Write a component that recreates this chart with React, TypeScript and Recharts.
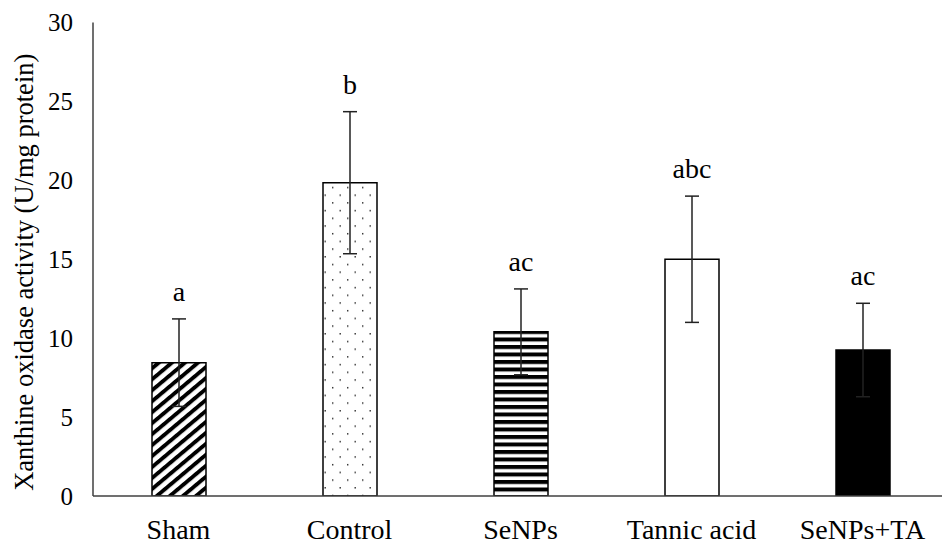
import React from 'react';
import { BarChart, Bar, XAxis, YAxis, ErrorBar, Cell, LabelList } from 'recharts';

const categories = ['Sham', 'Control', 'SeNPs', 'Tannic acid', 'SeNPs+TA'];
const means = [8.45, 19.85, 10.4, 15.0, 9.25];
const errors = [2.77, 4.5, 2.72, 4.0, 2.96];
const letters = ['a', 'b', 'ac', 'abc', 'ac'];
const yTicks = [0, 5, 10, 15, 20, 25, 30];
const yLabel = 'Xanthine oxidase activity (U/mg protein)';

const barFills = ['url(#diagStripe)', 'url(#dotFill)', 'url(#hStripe)', '#ffffff', '#000000'];

const data = categories.map((name, i) => ({ name, mean: means[i], err: errors[i], letter: letters[i] }));

const FONT = "'Liberation Serif', 'Times New Roman', 'DejaVu Serif', serif";
const textStyle = { fontFamily: FONT };

const YTick = (props: any) => {
  const { x, y, payload } = props;
  return (
    <text x={x - 20} y={y + 8.5} textAnchor="end" style={textStyle} fontSize={25} fill="#000">
      {payload.value}
    </text>
  );
};

const XTick = (props: any) => {
  const { x, y, payload } = props;
  return (
    <text x={x} y={y + 43} textAnchor="middle" style={textStyle} fontSize={28} fill="#000">
      {payload.value}
    </text>
  );
};

const YLabel = (props: any) => {
  const vb = props.viewBox || { x: 0, y: 22.5, width: 93, height: 473.5 };
  const cx = 33;
  const cy = vb.y + vb.height / 2 + 13;
  return (
    <text
      x={cx}
      y={cy}
      transform={`rotate(-90, ${cx}, ${cy})`}
      textAnchor="middle"
      style={textStyle}
      fontSize={26.5}
      fill="#000"
    >
      {yLabel}
    </text>
  );
};

const LetterLabel = (props: any) => {
  const vb = props.viewBox && props.viewBox.width !== undefined ? props.viewBox : props;
  const { x, y, width, height } = vb;
  let idx = props.index;
  if (idx === undefined || idx === null) {
    idx = props.payload ? categories.indexOf(props.payload.name) : 0;
  }
  const v = means[idx];
  const e = errors[idx];
  const errTop = y - e * (height / v);
  return (
    <text x={x + width / 2} y={errTop - 18} textAnchor="middle" style={textStyle} fontSize={28} fill="#000">
      {letters[idx]}
    </text>
  );
};

export default function App() {
  return (
    <div
      style={{
        position: 'absolute',
        left: 0,
        top: 0,
        width: 942,
        height: 545,
        overflow: 'hidden',
        background: '#fff',
      }}
    >
      <svg width={0} height={0} style={{ position: 'absolute' }}>
        <defs>
          <pattern id="diagStripe" patternUnits="userSpaceOnUse" width={8.4} height={8.4} patternTransform="rotate(50)">
            <rect x={0} y={0} width={8.4} height={8.4} fill="#fff" />
            <rect x={0} y={0} width={3.9} height={8.4} fill="#000" />
          </pattern>
          <pattern id="dotFill" patternUnits="userSpaceOnUse" width={15} height={15.4}>
            <rect x={0} y={0} width={15} height={15.4} fill="#fff" />
            <rect x={2} y={2} width={1.4} height={1.4} fill="#222" />
            <rect x={9.5} y={9.7} width={1.4} height={1.4} fill="#222" />
          </pattern>
          <pattern id="hStripe" patternUnits="userSpaceOnUse" width={7.5} height={7.5}>
            <rect x={0} y={0} width={7.5} height={7.5} fill="#fff" />
            <rect x={0} y={0} width={7.5} height={4} fill="#000" />
          </pattern>
        </defs>
      </svg>
      <BarChart
        width={948}
        height={545}
        data={data}
        margin={{ top: 22.5, right: 0, bottom: 0, left: 0 }}
        barSize={54}
      >
        <XAxis
          dataKey="name"
          height={49}
          tickLine={false}
          tickSize={0}
          tickMargin={0}
          axisLine={{ stroke: '#404040', strokeWidth: 1.5 }}
          tick={<XTick />}
          interval={0}
        />
        <YAxis
          width={93}
          domain={[0, 30]}
          ticks={yTicks}
          tickLine={false}
          tickSize={0}
          tickMargin={0}
          axisLine={{ stroke: '#404040', strokeWidth: 1.5 }}
          tick={<YTick />}
          label={<YLabel />}
          allowDataOverflow
        />
        <Bar dataKey="mean" stroke="#000" strokeWidth={1.5} isAnimationActive={false}>
          {data.map((d, i) => (
            <Cell key={d.name} fill={barFills[i]} />
          ))}
          <ErrorBar dataKey="err" width={7} stroke="#222" strokeWidth={1.5} isAnimationActive={false} />
          <LabelList dataKey="letter" content={<LetterLabel />} />
        </Bar>
      </BarChart>
    </div>
  );
}
